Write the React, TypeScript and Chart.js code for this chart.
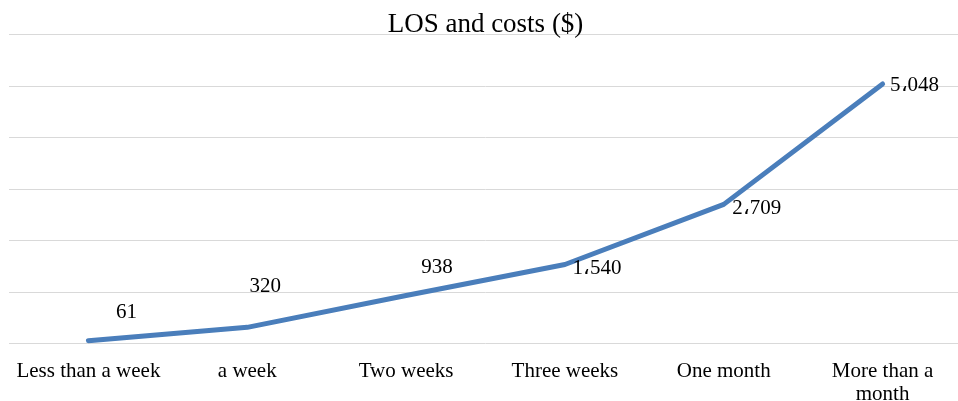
import React, { useEffect, useRef } from "react";
import { Chart, registerables } from "chart.js";

Chart.register(...registerables);

const categories: (string | string[])[] = [
  "Less than a week",
  "a week",
  "Two weeks",
  "Three weeks",
  "One month",
  ["More than a", "month"],
];
const costs = [61, 320, 938, 1540, 2709, 5048];
const costLabels = ["61", "320", "938", "1\u060C540", "2\u060C709", "5\u060C048"];
const labelOffsets = [
  [38, -28],
  [18, -41],
  [31, -28],
  [32, 4],
  [33, 4],
  [32, 2],
];

const FONT = "'Liberation Serif', 'Times New Roman', serif";

const labelPlugin = {
  id: "pointLabels",
  afterDatasetsDraw(chart: any) {
    const meta = chart.getDatasetMeta(0);
    const ctx = chart.ctx;
    ctx.save();
    ctx.font = `21px ${FONT}`;
    ctx.fillStyle = "#000";
    ctx.textAlign = "center";
    ctx.textBaseline = "middle";
    meta.data.forEach((pt: any, i: number) => {
      const [dx, dy] = labelOffsets[i];
      ctx.fillText(costLabels[i], pt.x + dx, pt.y + dy);
    });
    ctx.restore();
  },
};

export default function App() {
  const ref = useRef<HTMLCanvasElement>(null);
  useEffect(() => {
    document.body.style.margin = "0";
    const chart = new Chart(ref.current!, {
      type: "line",
      data: {
        labels: categories,
        datasets: [
          {
            data: costs,
            borderColor: "#4a7ebb",
            borderWidth: 5,
            pointRadius: 0,
            tension: 0,
            borderCapStyle: "round",
            borderJoinStyle: "round",
          },
        ],
      },
      options: {
        animation: false,
        responsive: false,
        layout: { padding: { left: 9, right: 0, top: 15, bottom: -13 } },
        plugins: {
          legend: { display: false },
          tooltip: { enabled: false },
          title: {
            display: true,
            text: "LOS and costs ($)",
            color: "#000",
            font: { family: FONT, size: 27, weight: "normal", lineHeight: 0.74 },
            padding: { top: 0, bottom: 0 },
          },
        },
        scales: {
          x: {
            offset: true,
            grid: { display: false },
            border: { display: false },
            ticks: {
              color: "#000",
              font: { family: FONT, size: 21, lineHeight: 1.1 },
              maxRotation: 0,
              autoSkip: false,
              padding: 8,
            },
          },
          y: {
            min: 0,
            max: 6000,
            ticks: { display: false, stepSize: 1000 },
            grid: { color: "#d9d9d9", lineWidth: 1, drawTicks: false },
            border: { display: false },
          },
        },
      },
      plugins: [labelPlugin],
    });
    return () => chart.destroy();
  }, []);
  return (
    <div style={{ width: 958, height: 401, overflow: "hidden" }}>
      <canvas ref={ref} width={962} height={401} style={{ display: "block" }} />
    </div>
  );
}
